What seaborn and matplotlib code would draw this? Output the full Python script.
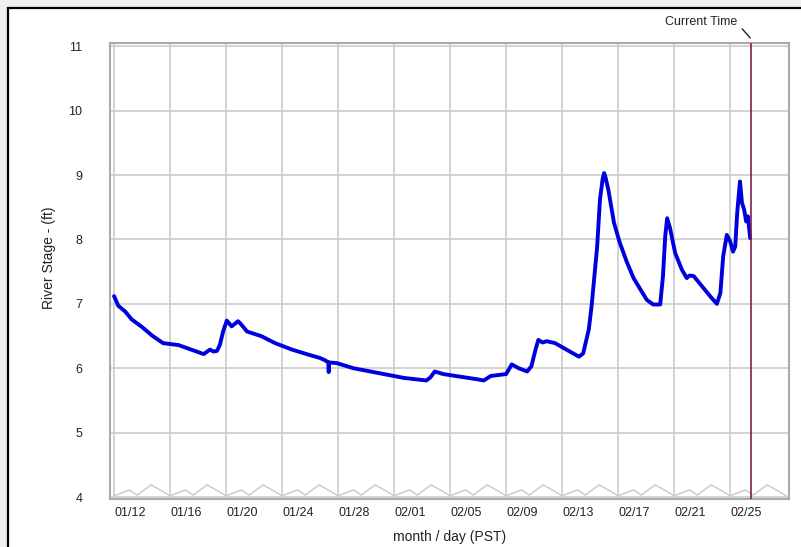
import matplotlib
matplotlib.use("Agg")
import matplotlib.pyplot as plt
from matplotlib.patches import Rectangle
import numpy as np
import pandas as pd
import seaborn as sns

# ---- data (days since 01/12 00:00 PST, river stage in ft) ----
days = [0.0, 0.3, 0.8, 1.25, 2.0, 2.7, 3.5, 4.6, 5.5, 6.4, 6.85, 7.1, 7.35, 7.55,
        7.8, 8.05, 8.4, 8.85, 9.0, 9.5, 10.5, 11.5, 12.7, 13.9, 14.7, 15.1, 15.3,
        15.33, 15.36, 15.9, 17.1, 18.3, 19.5, 20.7, 21.9, 22.3, 22.6, 22.9, 23.5,
        24.7, 25.9, 26.4, 26.9, 28.0, 28.4, 28.9, 29.5, 29.8, 30.1, 30.3, 30.6,
        30.9, 31.5, 32.3, 33.2, 33.5, 33.9, 34.1, 34.5, 34.7, 34.9, 35.0, 35.1,
        35.3, 35.7, 36.1, 36.6, 37.1, 37.6, 38.05, 38.5, 39.0, 39.2, 39.36, 39.5,
        39.7, 40.07, 40.55, 40.9, 41.1, 41.4, 42.0, 42.6, 43.05, 43.3, 43.5, 43.76,
        44.0, 44.2, 44.36, 44.5, 44.7, 44.84, 45.0, 45.14, 45.26, 45.43]
stage = [7.12, 6.97, 6.88, 6.76, 6.64, 6.51, 6.39, 6.36, 6.29, 6.22, 6.29, 6.26, 6.27, 6.36,
         6.58, 6.74, 6.65, 6.73, 6.70, 6.57, 6.50, 6.39, 6.29, 6.21, 6.16, 6.12, 6.09,
         5.94, 6.09, 6.08, 6.00, 5.95, 5.90, 5.85, 5.82, 5.81, 5.86, 5.95, 5.91,
         5.87, 5.83, 5.81, 5.88, 5.91, 6.06, 6.00, 5.95, 6.03, 6.29, 6.44, 6.40,
         6.42, 6.39, 6.29, 6.18, 6.23, 6.60, 6.96, 7.89, 8.62, 8.95, 9.03, 8.96,
         8.77, 8.26, 7.96, 7.66, 7.40, 7.22, 7.06, 6.99, 6.99, 7.43, 8.05, 8.33,
         8.18, 7.79, 7.53, 7.40, 7.44, 7.43, 7.27, 7.11, 7.00, 7.17, 7.74, 8.07,
         7.97, 7.81, 7.89, 8.41, 8.90, 8.57, 8.46, 8.28, 8.36, 8.02]

tick_days = [0, 4, 8, 12, 16, 20, 24, 28, 32, 36, 40, 44]
tick_labels = ["01/12", "01/16", "01/20", "01/24", "01/28", "02/01",
               "02/05", "02/09", "02/13", "02/17", "02/21", "02/25"]
y_ticks = [4, 5, 6, 7, 8, 9, 10, 11]
current_time = 45.5

# decorative zig-zag along the floor of the chart (one 4-day cell)
zig_offsets = [0.0, 1.1, 1.65, 2.65, 4.0]
zig_values = [4.02, 4.11, 4.03, 4.19, 4.02]

# ---- figure ----
sns.set_theme(style="white")
plt.rcParams["font.family"] = ["Liberation Sans", "DejaVu Sans"]

W, H = 801, 547
fig = plt.figure(figsize=(W / 100, H / 100), dpi=100)
fig.patch.set_facecolor("#f0f0f0")
fig.patches.append(Rectangle((7.5 / W, -0.1), 1.2, (H - 7.5) / H + 0.1,
                             transform=fig.transFigure, facecolor="white",
                             edgecolor="black", lw=1.6, zorder=-5))

ax = fig.add_axes([110 / W, 1 - 499 / H, 679 / W, 456 / H])
ax.set_facecolor("white")

# zig-zag decoration
zx, zy = [], []
for start in tick_days:
    for o, v in zip(zig_offsets, zig_values):
        zx.append(start + o)
        zy.append(v)
ax.plot(zx, zy, color="#c8c8c8", lw=1.0, zorder=1)

df = pd.DataFrame({"day": days, "stage": stage})
sns.lineplot(data=df, x="day", y="stage", ax=ax, color="#0000dd", lw=2.8,
             estimator=None, sort=False, zorder=3)

ax.axvline(current_time, color="#7f1f4f", lw=1.2, zorder=4)

ax.set_xlim(-0.29, 48.2)
ax.set_ylim(3.97, 11.05)
ax.set_xticks(tick_days)
ax.set_xticklabels(tick_labels)
for lbl in ax.get_xticklabels():
    lbl.set_ha("left")
ax.set_yticks(y_ticks)
ax.tick_params(axis="both", length=0, labelsize=9, colors="#222222")
ax.tick_params(axis="y", pad=20)
ax.tick_params(axis="x", pad=6)
ax.grid(True, color="#cccccc", lw=1.2)
ax.set_axisbelow(True)
for s in ax.spines.values():
    s.set_color("#aaaaaa")
    s.set_linewidth(1.5)
    s.set_visible(True)

ax.set_xlabel("month / day (PST)", fontsize=10, color="#222222")
ax.set_ylabel("River Stage - (ft)", fontsize=10, color="#222222")
ax.xaxis.set_label_coords(0.5, -0.068)
ax.yaxis.set_label_coords(-0.08, 0.53)

# "Current Time" annotation
tr = ax.get_xaxis_transform()
ax.text(44.5, 1.046, "Current Time", transform=tr, ha="right", va="center",
        fontsize=9, color="#222222", clip_on=False)
ax.plot([44.86, 45.43], [1.031, 1.011], transform=tr, color="#222222",
        lw=1.0, clip_on=False)

fig.savefig("out.png", dpi=100, facecolor=fig.get_facecolor())
